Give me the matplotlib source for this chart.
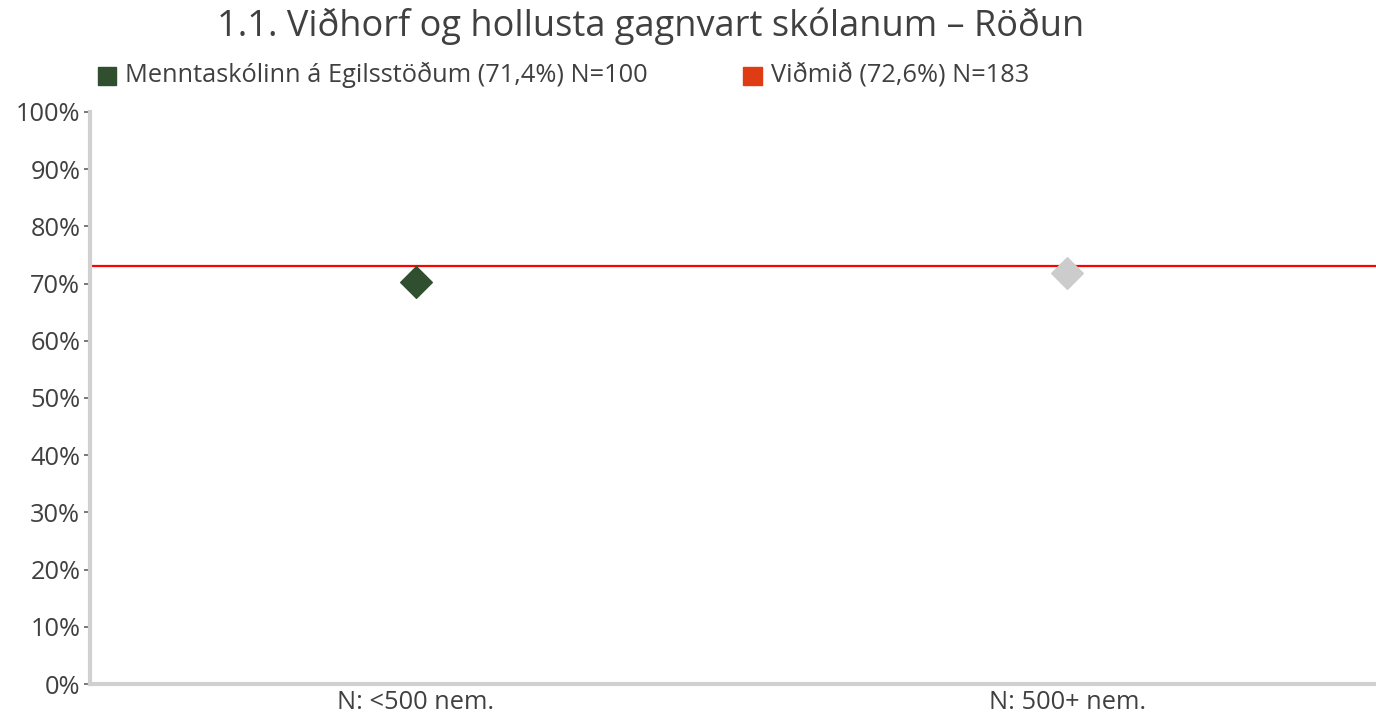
import matplotlib.pyplot as plt
from matplotlib.ticker import PercentFormatter

# gögn
categories = ['N: <500 nem.', 'N: 500+ nem.']
school_values = [70.3, None]
other_values = [None, 71.9]
benchmark = 73.1
legend_labels = ['Menntaskólinn á Egilsstöðum (71,4%) N=100', 'Viðmið (72,6%) N=183']
title = '1.1. Viðhorf og hollusta gagnvart skólanum – Röðun'

plt.rcParams['font.family'] = ['Open Sans', 'DejaVu Sans']
txt = '#404040'

fig = plt.figure(figsize=(13.76, 7.17), dpi=100)
ax = fig.add_axes([0.0654, 0.046, 0.947, 0.798])

x = range(len(categories))
for i, v in enumerate(school_values):
    if v is not None:
        ax.scatter(i, v, marker='D', s=260, color='#2f4f2f', zorder=3)
for i, v in enumerate(other_values):
    if v is not None:
        ax.scatter(i, v, marker='D', s=260, color='#cccccc', zorder=3)
ax.axhline(benchmark, color='#ff0000', lw=1.6, zorder=2)

ax.set_xlim(-0.5, 1.5)
ax.set_ylim(0, 100)
ax.set_yticks(range(0, 101, 10))
ax.yaxis.set_major_formatter(PercentFormatter(decimals=0))
ax.set_xticks(list(x))
ax.set_xticklabels(categories)
ax.tick_params(axis='y', labelsize=18.3, colors='#606060', labelcolor=txt, length=4, width=1.2, pad=3)
ax.tick_params(axis='x', labelsize=18.3, labelcolor=txt, length=0, pad=4)

for s in ['top', 'right']:
    ax.spines[s].set_visible(False)
for s in ['left', 'bottom']:
    ax.spines[s].set_color('#d0d0d0')
    ax.spines[s].set_linewidth(3)

fig.text(0.473, 0.963, title, ha='center', va='center', fontsize=26, color=txt)

# skýringar
fig.patches.append(plt.Rectangle((0.0715, 0.881), 0.0125, 0.026, color='#2f4f2f', transform=fig.transFigure))
fig.text(0.0905, 0.895, legend_labels[0], fontsize=18.3, color=txt, va='center')
fig.patches.append(plt.Rectangle((0.540, 0.881), 0.0135, 0.026, color='#e03c14', transform=fig.transFigure))
fig.text(0.5605, 0.895, legend_labels[1], fontsize=18.3, color=txt, va='center')

fig.savefig('out.png')
